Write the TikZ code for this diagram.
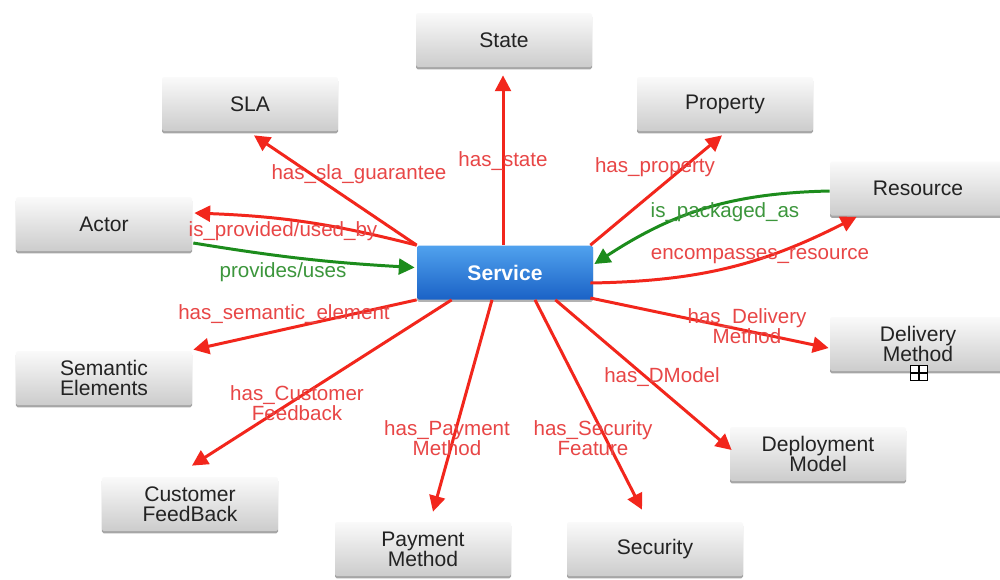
\documentclass[tikz,border=0pt]{standalone}
\usepackage{fontspec}
\setmainfont{Liberation Sans}
\usetikzlibrary{arrows.meta,calc,shadows}
\definecolor{arrowred}{RGB}{242,38,28}
\definecolor{labelred}{RGB}{232,70,70}
\definecolor{arrowgreen}{RGB}{28,140,28}
\definecolor{labelgreen}{RGB}{60,150,60}
\definecolor{boxtop}{RGB}{250,250,250}
\definecolor{boxbot}{RGB}{204,204,204}
\definecolor{boxtext}{RGB}{35,35,35}
\definecolor{svctop}{RGB}{80,162,238}
\definecolor{svcbot}{RGB}{26,98,198}
\begin{document}
\begin{tikzpicture}[x=0.2mm,y=0.2mm,
  box/.style={rectangle, rounded corners=1pt, minimum width=35.2mm, minimum height=10.8mm,
    inner sep=1pt, align=center, top color=boxtop, bottom color=boxbot, draw=none,
    font=\fontsize{12}{11.5}\selectfont, text=boxtext,
    drop shadow={shadow xshift=0pt, shadow yshift=-1.3pt, opacity=0.35, fill=black}},
  svcbox/.style={rectangle, rounded corners=1pt, minimum width=35.2mm, minimum height=10.8mm,
    inner sep=1pt, top color=svctop, bottom color=svcbot, draw=none,
    font=\bfseries\fontsize{12}{14}\selectfont, text=white,
    drop shadow={shadow xshift=0pt, shadow yshift=-1.3pt, opacity=0.3, fill=black}},
  rel/.style={draw=arrowred, line width=1.7pt, -{Triangle[length=9pt,width=9pt]}},
  grel/.style={draw=arrowgreen, line width=1.7pt, -{Triangle[length=9pt,width=9pt]}},
  lab/.style={font=\fontsize{11.7}{11.5}\selectfont, text=labelred, align=center, inner sep=0pt},
  glab/.style={font=\fontsize{11.7}{11.5}\selectfont, text=labelgreen, align=center, inner sep=0pt},
  plusbox/.style={draw=black, fill=white, line width=0.7pt, minimum width=3.4mm, minimum height=3.0mm, inner sep=0pt,
    path picture={\draw[line width=0.7pt] (path picture bounding box.west) -- (path picture bounding box.east)
      (path picture bounding box.north) -- (path picture bounding box.south);}}
]
\fill[white] (0,-579) rectangle (1000,0);
\useasboundingbox (0,-579) rectangle (1000,0);

% nodes
\node[box] (state) at (504,-40) {State};
\node[box] (sla) at (250,-104) {SLA};
\node[box] (prop) at (725,-104) {Property};
\node[box] (res) at (918,-188.5) {Resource};
\node[box] (actor) at (104,-224) {Actor};
\node[svcbox] (svc) at (505,-272.5) {Service};
\node[box] (deliv) at (918,-344) {Delivery\\Method};
\node[box] (sem) at (104,-378) {Semantic\\Elements};
\node[box] (dep) at (818,-454) {Deployment\\Model};
\node[box] (cust) at (190,-504) {Customer\\FeedBack};
\node[box] (pay) at (423,-549) {Payment\\Method};
\node[box] (sec) at (655,-549) {Security};

% connectors
\draw[rel] ($(svc.north)+(-2,0)$) -- ($(state.south)+(-1,-8)$);
\draw[rel] (svc.north west) -- ($(sla.south)+(4,-4)$);
\draw[rel] ($(svc.north east)+(-3,0)$) -- ($(prop.south)+(-3,-4)$);
\draw[rel] (svc.north west) to[bend right=6] ($(actor.east)+(2,11)$);
\draw[grel] ($(actor.east)+(1,-19)$) to[bend right=3] ($(svc.west)+(-2,5)$);
\draw[grel] ($(res.west)+(0,-2.5)$) to[bend right=16] ($(svc.east)+(1,8.5)$);
\draw[rel] ($(svc.east)+(-3,-10.5)$) to[bend right=13] ($(res.south west)+(27,-1)$);
\draw[rel] (svc.south west) -- ($(sem.north east)+(1,1)$);
\draw[rel] ($(svc.south west)+(35,0)$) -- ($(cust.north)+(2,11)$);
\draw[rel] ($(svc.south)+(-13,0)$) -- ($(pay.north)+(10,10)$);
\draw[rel] ($(svc.south)+(30,0)$) -- ($(sec.north)+(-13,12)$);
\draw[rel] ($(svc.south east)+(-38,0)$) -- ($(dep.west)+(2,4)$);
\draw[rel] ($(svc.east)+(-3,-25.5)$) -- ($(deliv.west)+(-1,-4)$);

% labels
\node[lab] (lstate) at (503,-161) {has\_state};
\node[lab] (lsla) at (359,-174) {has\_sla\_guarantee};
\node[lab] (lprop) at (655,-167) {has\_property};
\node[lab] (lprov) at (283,-231) {is\_provided/used\_by};
\node[glab] (luses) at (283,-272) {provides/uses};
\node[glab] (lpack) at (725,-212) {is\_packaged\_as};
\node[lab] (lenc) at (760,-256) {encompasses\_resource};
\node[lab] (lsem) at (284,-314) {has\_semantic\_element};
\node[lab] (lcust) at (297,-403) {has\_Customer\\Feedback};
\node[lab] (lpay) at (447,-438) {has\_Payment\\Method};
\node[lab] (lsec) at (593,-438) {has\_Security\\Feature};
\node[lab] (ldep) at (662,-377) {has\_DModel};
\node[lab] (ldel) at (747,-326) {has\_Delivery\\Method};

\node[plusbox] (plus) at (919,-373) {};
\end{tikzpicture}
\end{document}
